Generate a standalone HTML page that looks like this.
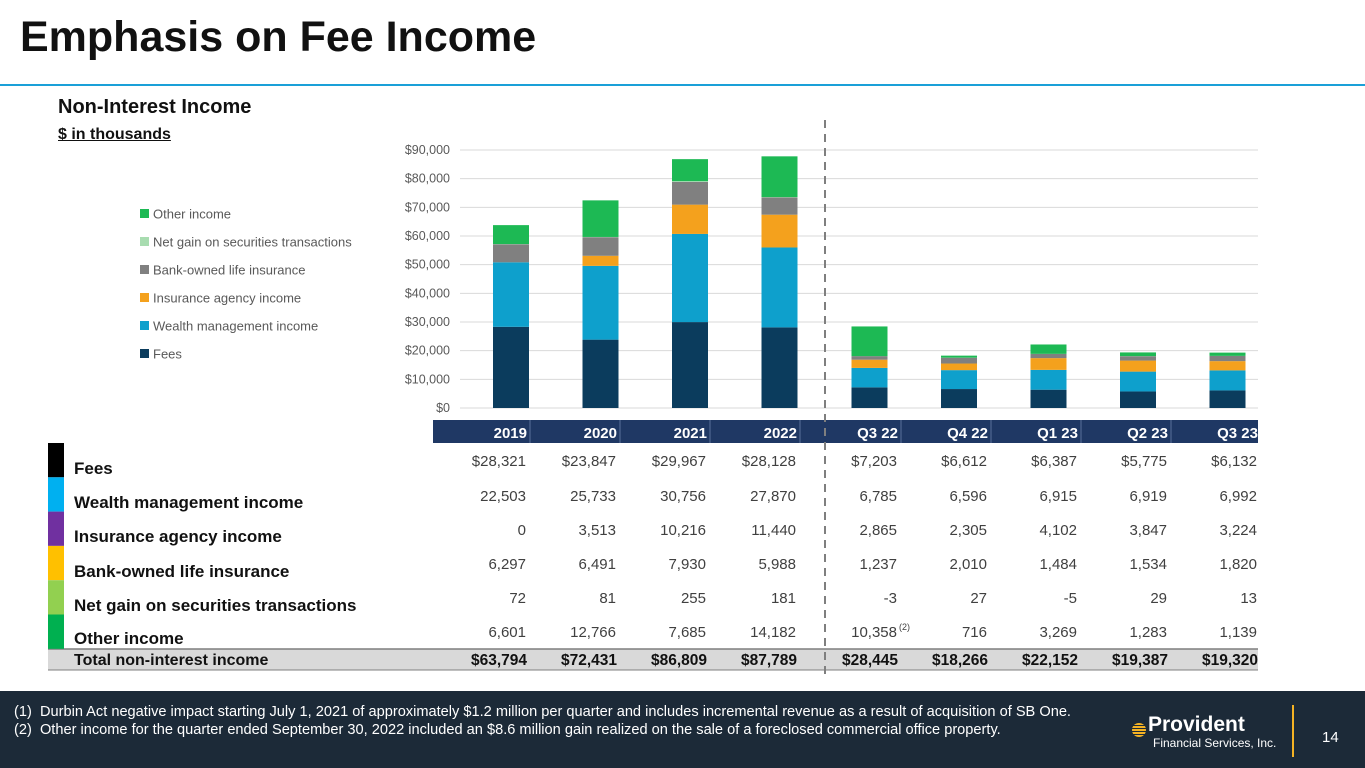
<!DOCTYPE html>
<html><head><meta charset="utf-8">
<style>
body{margin:0;width:1365px;height:768px;position:relative;overflow:hidden;background:#fff;font-family:"Liberation Sans",sans-serif}
.abs{position:absolute}
</style></head>
<body>
<div class="abs" style="left:20px;top:13px;font-size:43px;font-weight:bold;color:#111;font-family:'Liberation Sans',sans-serif">Emphasis on Fee Income</div>
<div class="abs" style="left:0;top:84px;width:1365px;height:2px;background:#1aa0d8"></div>
<div class="abs" style="left:58px;top:96px;font-size:20px;font-weight:bold;color:#111">Non-Interest Income</div>
<div class="abs" style="left:58px;top:126px;font-size:16px;font-weight:bold;color:#111;text-decoration:underline">$ in thousands</div>
<svg id="chart" class="abs" style="left:0;top:0" width="1365" height="691"></svg>
<div class="abs" style="left:0;top:691px;width:1365px;height:77px;background:#1c2a38;color:#fff">
 <div class="abs" style="left:14px;top:13px;font-size:14.6px;white-space:nowrap">(1)&nbsp; Durbin Act negative impact starting July 1, 2021 of approximately $1.2 million per quarter and includes incremental revenue as a result of acquisition of SB One.</div>
 <div class="abs" style="left:14px;top:31px;font-size:14.6px;white-space:nowrap">(2)&nbsp; Other income for the quarter ended September 30, 2022 included an $8.6 million gain realized on the sale of a foreclosed commercial office property.</div>
 <div class="abs" style="left:1132px;top:32px;width:14px;height:14px;border-radius:50%;background:repeating-linear-gradient(#f5b324 0 2px,#1c2a38 2px 3px)"></div>
 <div class="abs" style="left:1148px;top:24px;font-size:21px;font-weight:bold;line-height:20px">Provident</div>
 <div class="abs" style="left:1153px;top:45px;font-size:12px">Financial Services, Inc.</div>
 <div class="abs" style="left:1292px;top:14px;width:2px;height:52px;background:#f5b324"></div>
 <div class="abs" style="left:1322px;top:38px;font-size:15px">14</div>
</div>
<script>
const categories=["2019","2020","2021","2022","Q3  22","Q4  22","Q1 23","Q2 23","Q3 23"];
const seriesNames=["Fees","Wealth management income","Insurance agency income","Bank-owned life insurance","Net gain on securities transactions","Other income"];
const fees=[28321,23847,29967,28128,7203,6612,6387,5775,6132];
const wealth=[22503,25733,30756,27870,6785,6596,6915,6919,6992];
const insurance=[0,3513,10216,11440,2865,2305,4102,3847,3224];
const boli=[6297,6491,7930,5988,1237,2010,1484,1534,1820];
const netGain=[72,81,255,181,-3,27,-5,29,13];
const other=[6601,12766,7685,14182,10358,716,3269,1283,1139];
const totals=[63794,72431,86809,87789,28445,18266,22152,19387,19320];
const yTicks=[0,10000,20000,30000,40000,50000,60000,70000,80000,90000];
const NS="http://www.w3.org/2000/svg";
const svg=document.getElementById('chart');
const colors=["#0b3c5d","#0ea0cc","#f4a11d","#808080","#a8dcb0","#1db954"];
const stripColors=["#000","#00b0f0","#7030a0","#ffc000","#92d050","#00b050"];
const series=[fees,wealth,insurance,boli,netGain,other];
const y0=408,yTop=150,yMax=90000;
const yS=v=>y0-(v/yMax)*(y0-yTop);
const xS=i=>511+i*89.5+(i>=4?0.5:0);
const colR=i=>i<4?526+i*90:897+(i-4)*90;
function el(t,a,p){const e=document.createElementNS(NS,t);for(const k in a)e.setAttribute(k,a[k]);(p||svg).appendChild(e);return e;}
function fmt(v){return v.toLocaleString('en-US');}
yTicks.forEach(t=>{
 const g=el('line',{x1:460,x2:1258,y1:yS(t),y2:yS(t),stroke:'#d9d9d9','stroke-width':1});
 
 
 const tx=el('text',{x:450,y:yS(t)+4,'text-anchor':'end','font-size':12.5,fill:'#595959','font-family':'Liberation Sans'});
 tx.textContent='$'+fmt(t);
 
 
});
categories.forEach((c,i)=>{
 let base=0;
 series.forEach((s,k)=>{
  const v=Math.max(0,s[i]);
  const r=el('rect',{x:xS(i)-18,width:36,y:yS(base+v),height:yS(base)-yS(base+v),fill:colors[k]});
  
  
  base+=v;
 });
});
[5,4,3,2,1,0].forEach((k,j)=>{
 const y=214+j*28;
 const r=el('rect',{x:140,y:y-5,width:9,height:9,fill:colors[k]});
 
 
 const t=el('text',{x:153,y:y+4.5,'font-size':13,fill:'#595959','font-family':'Liberation Sans'});
 t.textContent=seriesNames[k];
 
 
});
const hb=el('rect',{x:433,y:420,width:825,height:23,fill:'#1f3864'});


categories.forEach((c,i)=>{
 const r=colR(i)+1;
 if(i<categories.length-1){const d=el('line',{x1:r+3,x2:r+3,y1:420,y2:443,stroke:'#5a6f9a'});}
 const t=el('text',{x:r,y:438,'text-anchor':'end','font-size':15,'font-weight':'bold',fill:'#fff','font-family':'Liberation Sans','xml:space':'preserve'});
 t.textContent=c;
 
 
});
const tb=el('rect',{x:48,y:649,width:1210,height:21,fill:'#d9d9d9'});


el('line',{x1:48,x2:1258,y1:649,y2:649,stroke:'#7f7f7f','stroke-width':1.5});
el('line',{x1:48,x2:1258,y1:670,y2:670,stroke:'#7f7f7f','stroke-width':1});
stripColors.forEach((c,k)=>{
 const r=el('rect',{x:48,y:443+k*34.3,width:16,height:34.3,fill:c});
 
 
});
seriesNames.forEach((n,k)=>{
 const t=el('text',{x:74,y:[474,508,542,577,611,644][k],'font-size':17,'font-weight':'bold',fill:'#111','font-family':'Liberation Sans'});
 t.textContent=n;
 
 
 categories.forEach((c,i)=>{
  const v=series[k][i];
  const t2=el('text',{x:colR(i),y:[466,501,535,569,603,637][k],'text-anchor':'end','font-size':15,fill:'#404040','font-family':'Liberation Sans'});
  t2.textContent=(k==0?'$':'')+fmt(v);
  
  
 });
});
const fn=el('text',{x:899,y:630,'font-size':9,fill:'#404040','font-family':'Liberation Sans'});
fn.textContent='(2)';
const tl=el('text',{x:74,y:665,'font-size':16,'font-weight':'bold',fill:'#111','font-family':'Liberation Sans'});
tl.textContent='Total non-interest income';


totals.forEach((v,i)=>{
 const t=el('text',{x:colR(i)+1,y:665,'text-anchor':'end','font-size':15.5,'font-weight':'bold',fill:'#111','font-family':'Liberation Sans'});
 t.textContent='$'+fmt(v);
 
 
});
const dl=el('line',{x1:825,x2:825,y1:120,y2:676,stroke:'#7f7f7f','stroke-width':2,'stroke-dasharray':'8,6'});


</script>
</body></html>
